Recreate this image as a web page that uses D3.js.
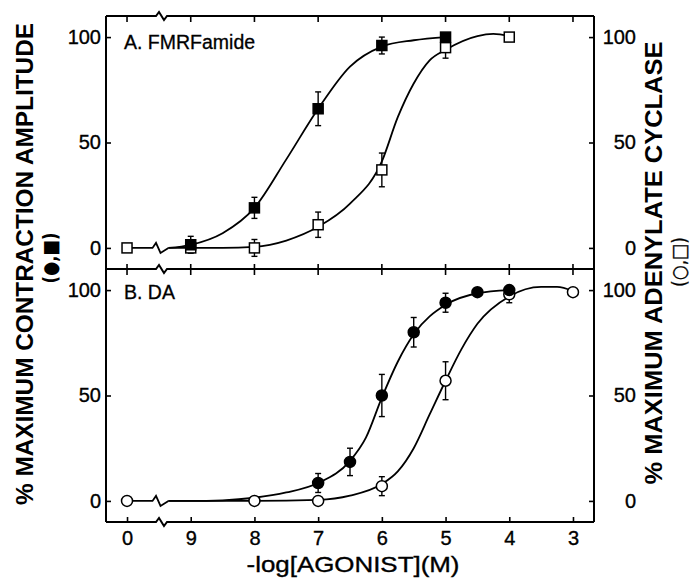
<!DOCTYPE html>
<meta charset="utf-8">
<style>
body { margin: 0; background: #fff; }
svg { display: block; }
text { font-family: "Liberation Sans", Arial, sans-serif; fill: #000; }
.tick text { font-size: 20px; stroke: #000; stroke-width: 0.35px; }
.frame, .brk { fill: none; stroke: #000; stroke-width: 2px; }
.curve { fill: none; stroke: #000; stroke-width: 1.8px; }
.err { stroke: #000; stroke-width: 1.4px; }
</style>
<svg width="694" height="579"></svg>
<script src="https://d3js.org/d3.v7.min.js"></script>
<script>

// x positions (-log M); the "0" (no agonist) point is drawn at 10, left of the axis break
var xTicks = [10, 9, 8, 7, 6, 5, 4, 3];
var xTickLabels = ["0", "9", "8", "7", "6", "5", "4", "3"];
var yTicks = [0, 50, 100];

// A. FMRFamide, contraction (filled squares)
var aContrX = [9, 8, 7, 6, 5];
var aContrY = [1.5, 19, 66, 96, 100];
var aContrE = [4, 5, 8, 4, 0];
// A. FMRFamide, adenylate cyclase (open squares)
var aCycX = [10, 9, 8, 7, 6, 5, 4];
var aCycY = [0, 0, 0, 11, 37, 95, 100];
var aCycE = [0, 0, 4, 6, 8, 5, 0];
// B. DA, contraction (filled circles)
var bContrX = [7, 6.5, 6, 5.5, 5, 4.5, 4];
var bContrY = [8.5, 18.5, 50, 80, 94, 99, 100];
var bContrE = [4.5, 6.5, 10, 7, 4.5, 2, 0];
// B. DA, adenylate cyclase (open circles)
var bCycX = [10, 8, 7, 6, 5, 4, 3];
var bCycY = [0, 0, 0, 7, 57, 98, 99];
var bCycE = [0, 0, 0, 4.5, 9, 4, 0];

// fitted curves
var aContrCurve = [[9.35,0],[9,1.5],[8.5,7],[8,19],[7.5,42],[7,66],[6.5,86],[6,95.5],[5.5,98.5],[5,100]];
var aCycCurve = [[9.35,0],[9,0],[8.5,0],[8,0.5],[7.5,3.5],[7,10],[6.5,21],[6,41],[5.75,62],[5.5,78],[5.25,89],[5,94],[4.5,100.5],[4.25,101.5],[4,100.5]];
var bContrCurve = [[9.35,0],[9,0],[8.5,0.3],[8,1.5],[7.5,4],[7,8.5],[6.5,19],[6.25,30],[6,49],[5.75,66],[5.5,79],[5,93],[4.5,98.5],[4,100]];
var bCycCurve = [[9.35,0],[8,0],[7,0.5],[6.5,2.5],[6,8],[5.75,14],[5.5,25],[5.25,41],[5,57],[4.75,72],[4.5,84],[4,97],[3.5,101.5],[3.25,101.5],[3,99.5]];

var svg = d3.select("svg");
var left = 106, right = 594;

var x = d3.scaleLinear().domain([10.33, 2.67]).range([left, right]);

var panels = [
  { top: 16, bottom: 269, label: "A. FMRFamide", labelY: 49, shape: "square",
    contr: [aContrX, aContrY, aContrE], cyc: [aCycX, aCycY, aCycE],
    curves: [aContrCurve, aCycCurve], topTicks: "in" },
  { top: 269, bottom: 522, label: "B. DA", labelY: 299, shape: "circle",
    contr: [bContrX, bContrY, bContrE], cyc: [bCycX, bCycY, bCycE],
    curves: [bContrCurve, bCycCurve], topTicks: "both" }
];

var brkX = 162;
function frameBreak(yy) {
  return [[brkX - 6, yy], [brkX - 3, yy - 4], [brkX + 2, yy + 4], [brkX + 5, yy]];
}

panels.forEach(function(p, i) {
  var y = d3.scaleLinear().domain([-10, 110]).range([p.bottom, p.top]);
  var g = svg.append("g");

  // frame sides
  g.append("line").attr("class", "frame").attr("x1", left).attr("x2", left).attr("y1", p.top).attr("y2", p.bottom);
  g.append("line").attr("class", "frame").attr("x1", right).attr("x2", right).attr("y1", p.top).attr("y2", p.bottom);

  // y axes, ticks inward
  g.append("g").attr("class", "tick").attr("transform", "translate(" + left + ",0)")
    .call(d3.axisLeft(y).tickValues(yTicks).tickSizeInner(-5).tickSizeOuter(0).tickPadding(5))
    .call(function(a) { a.select(".domain").remove(); a.selectAll("line").attr("stroke-width", 1.6); a.selectAll("text").attr("font-size", 20); });
  g.append("g").attr("class", "tick").attr("transform", "translate(" + right + ",0)")
    .call(d3.axisRight(y).tickValues(yTicks).tickSizeInner(-5).tickSizeOuter(0).tickPadding(10))
    .call(function(a) {
      a.select(".domain").remove();
      a.selectAll("line").attr("stroke-width", 1.6);
      a.selectAll("text").attr("text-anchor", "end").attr("x", 42).attr("font-size", 20);
    });

  // panel label
  g.append("text").attr("x", 124).attr("y", p.labelY).attr("font-size", 19.5)
    .attr("stroke", "#000").attr("stroke-width", 0.3).text(p.label);

  // curves
  var line = d3.line().x(function(d) { return x(d[0]); }).y(function(d) { return y(d[1]); })
    .curve(d3.curveMonotoneX);
  p.curves.forEach(function(c) {
    g.append("path").attr("class", "curve").attr("d", line(c));
  });

  // flat segment from the "0" point to the data-line break, then the zigzag
  var y0 = y(0), xa = x(9.6), xb = x(9.35);
  g.append("path").attr("class", "curve")
    .attr("d", d3.line()([[x(10), y0], [xa, y0], [xa + 3.5, y0 - 5], [xa + 8, y0 + 5], [xb, y0]]));

  // error bars
  function errs(s) {
    var d = d3.zip(s[0], s[1], s[2]).filter(function(r) { return r[2] > 0; });
    d.forEach(function(r) {
      var cx = x(r[0]), t = y(r[1] + r[2]), b = y(r[1] - r[2]);
      g.append("line").attr("class", "err").attr("x1", cx).attr("x2", cx).attr("y1", t).attr("y2", b);
      g.append("line").attr("class", "err").attr("x1", cx - 3).attr("x2", cx + 3).attr("y1", t).attr("y2", t);
      g.append("line").attr("class", "err").attr("x1", cx - 3).attr("x2", cx + 3).attr("y1", b).attr("y2", b);
    });
  }
  errs(p.cyc);
  errs(p.contr);

  // markers: open (cyclase) under filled (contraction)
  function marks(s, filled) {
    var d = d3.zip(s[0], s[1]);
    if (p.shape === "square") {
      g.selectAll(null).data(d).enter().append("rect")
        .attr("x", function(r) { return x(r[0]) - 5; })
        .attr("y", function(r) { return y(r[1]) - 5; })
        .attr("width", 10).attr("height", 10)
        .attr("fill", filled ? "#000" : "#fff").attr("stroke", "#000").attr("stroke-width", 1.5);
    } else {
      g.selectAll(null).data(d).enter().append("circle")
        .attr("cx", function(r) { return x(r[0]); })
        .attr("cy", function(r) { return y(r[1]); })
        .attr("r", 5.5)
        .attr("fill", filled ? "#000" : "#fff").attr("stroke", "#000").attr("stroke-width", 1.5);
    }
  }
  marks(p.cyc, false);
  marks(p.contr, true);

  // top edge of this panel with its ticks
  g.append("path").attr("class", "frame")
    .attr("d", d3.line()([[left, p.top]].concat(frameBreak(p.top)).concat([[right, p.top]])));
  xTicks.forEach(function(v) {
    var up = p.topTicks === "both" ? 5 : 0;
    g.append("line").attr("stroke", "#000").attr("stroke-width", 1.6)
      .attr("x1", x(v)).attr("x2", x(v)).attr("y1", p.top - up).attr("y2", p.top + 6);
  });
});

// bottom edge, ticks pointing up, with labels
var yb = 522;
svg.append("path").attr("class", "frame")
  .attr("d", d3.line()([[left, yb]].concat(frameBreak(yb)).concat([[right, yb]])));
var xAxis = svg.append("g").attr("class", "tick").attr("transform", "translate(0," + yb + ")")
  .call(d3.axisBottom(x).tickValues(xTicks).tickFormat(function(d, i) { return xTickLabels[i]; })
    .tickSizeInner(-5).tickSizeOuter(0).tickPadding(9));
xAxis.select(".domain").remove();
xAxis.selectAll("line").attr("stroke-width", 1.6);
xAxis.selectAll("text").attr("font-size", 20);

// axis titles
svg.append("text").attr("transform", "translate(33,264) rotate(-90)")
  .attr("text-anchor", "middle").attr("font-size", 24).attr("font-weight", "bold")
  .attr("textLength", 482).attr("lengthAdjust", "spacingAndGlyphs")
  .text("% MAXIMUM CONTRACTION AMPLITUDE");
svg.append("text").attr("transform", "translate(57,258) rotate(-90)")
  .attr("text-anchor", "middle").attr("font-size", 20).attr("font-weight", "bold")
  .attr("textLength", 51).attr("lengthAdjust", "spacingAndGlyphs")
  .style("font-family", "'DejaVu Sans', sans-serif")
  .text("(●,■)");

svg.append("text").attr("transform", "translate(662,263) rotate(-90)")
  .attr("text-anchor", "middle").attr("font-size", 24).attr("font-weight", "bold")
  .attr("textLength", 443).attr("lengthAdjust", "spacingAndGlyphs")
  .text("% MAXIMUM ADENYLATE CYCLASE");
svg.append("text").attr("transform", "translate(686,262) rotate(-90)")
  .attr("text-anchor", "middle").attr("font-size", 20)
  .attr("textLength", 50).attr("lengthAdjust", "spacingAndGlyphs")
  .style("font-family", "'DejaVu Sans', sans-serif")
  .attr("stroke", "#000").attr("stroke-width", 0.3)
  .text("(○,□)");

svg.append("text").attr("x", 353).attr("y", 572)
  .attr("text-anchor", "middle").attr("font-size", 22)
  .attr("stroke", "#000").attr("stroke-width", 0.35)
  .attr("textLength", 213).attr("lengthAdjust", "spacingAndGlyphs")
  .text("-log[AGONIST](M)");

</script>
